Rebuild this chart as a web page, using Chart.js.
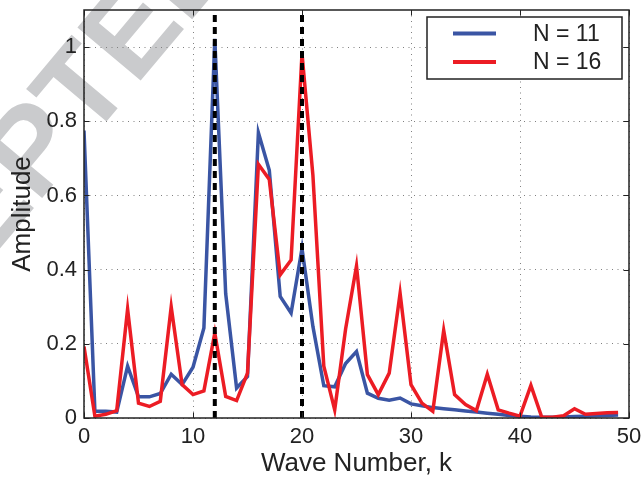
<!DOCTYPE html>
<html>
<head>
<meta charset="utf-8">
<script src="https://cdn.jsdelivr.net/npm/chart.js@4.4.1/dist/chart.umd.min.js"></script>
<style>
  html, body { margin: 0; padding: 0; background: #ffffff; }
  #wrap { width: 644px; height: 479px; position: relative; }
</style>
</head>
<body>
<div id="wrap"><canvas id="spectrum" width="644" height="479"></canvas></div>
<script>
// Wave numbers k and the spectral amplitudes for the two resolutions
const waveNumbers = [0, 1, 2, 3, 4, 5, 6, 7, 8, 9, 10, 11, 12, 13, 14, 15, 16, 17, 18, 19,
  20, 21, 22, 23, 24, 25, 26, 27, 28, 29, 30, 31, 32, 33, 34, 35, 36, 37, 38, 39,
  40, 41, 42, 43, 44, 45, 46, 47, 48, 49];

const ampN11 = [0.775, 0.018, 0.018, 0.016, 0.140, 0.057, 0.057, 0.066, 0.118, 0.090,
  0.137, 0.243, 1.022, 0.335, 0.081, 0.112, 0.769, 0.668, 0.328, 0.283,
  0.457, 0.247, 0.087, 0.084, 0.147, 0.179, 0.067, 0.053, 0.048, 0.054,
  0.038, 0.033, 0.028, 0.025, 0.022, 0.019, 0.016, 0.013, 0.010, 0.007,
  0.005, 0.003, 0.002, 0.002, 0.003, 0.004, 0.005, 0.006, 0.007, 0.008];

const ampN16 = [0.193, 0.005, 0.010, 0.020, 0.294, 0.040, 0.031, 0.045, 0.300, 0.090,
  0.063, 0.073, 0.229, 0.058, 0.047, 0.121, 0.684, 0.643, 0.386, 0.426,
  0.982, 0.655, 0.140, 0.022, 0.240, 0.410, 0.117, 0.063, 0.121, 0.336,
  0.090, 0.040, 0.018, 0.236, 0.063, 0.036, 0.020, 0.118, 0.022, 0.013,
  0.005, 0.088, 0.002, 0.002, 0.006, 0.025, 0.010, 0.012, 0.014, 0.015];

const seriesLabels = ['N = 11', 'N = 16'];
const seriesColors = ['#3a55a4', '#ec1c24'];

// Reference wave numbers marked with dashed verticals
const markerK = [12, 20];

// Axis extents and tick values
const xRange = [0, 50];
const yRange = [0, 1.1];
const xTickValues = [0, 10, 20, 30, 40, 50];
const yTickValues = [0, 0.2, 0.4, 0.6, 0.8, 1];

const INK = '#222222';
const FONT = '"Liberation Sans", Arial, Helvetica, sans-serif';

const toPoints = (ys) => waveNumbers.map((k, i) => ({ x: k, y: ys[i] }));

// Large grey stamp lettering behind the plot
const stampPlugin = {
  id: 'stamp',
  beforeDraw(chart) {
    const ctx = chart.ctx;
    ctx.save();
    ctx.font = 'bold 120px ' + FONT;
    ctx.fillStyle = '#cacbcd';
    ctx.textBaseline = 'alphabetic';
    ctx.translate(88.5, 143);
    ctx.rotate(-50 * Math.PI / 180);
    const lead = ctx.measureText('ACCEP').width;
    ctx.textAlign = 'left';
    ctx.fillText('ACCEPTED MANUSCRIPT', -lead, 0);
    ctx.restore();
  }
};

// Box around the plot area with inward tick marks on all four sides
const framePlugin = {
  id: 'frame',
  afterDraw(chart) {
    const { ctx, chartArea: a, scales } = chart;
    const tick = 5.5;
    ctx.save();
    ctx.strokeStyle = INK;
    ctx.lineWidth = 1;
    ctx.beginPath();
    xTickValues.forEach(v => {
      const px = Math.round(scales.x.getPixelForValue(v)) + 0.5;
      ctx.moveTo(px, a.bottom); ctx.lineTo(px, a.bottom - tick);
      ctx.moveTo(px, a.top); ctx.lineTo(px, a.top + tick);
    });
    yTickValues.forEach(v => {
      const py = Math.round(scales.y.getPixelForValue(v)) + 0.5;
      ctx.moveTo(a.left, py); ctx.lineTo(a.left + tick, py);
      ctx.moveTo(a.right, py); ctx.lineTo(a.right - tick, py);
    });
    ctx.stroke();
    ctx.lineWidth = 1.5;
    ctx.strokeRect(a.left, a.top, a.right - a.left, a.bottom - a.top);
    ctx.restore();
  }
};

// Boxed legend in the upper right corner of the plot
const boxLegendPlugin = {
  id: 'boxLegend',
  afterDraw(chart) {
    const { ctx, chartArea: a } = chart;
    const w = 195, h = 62;
    const left = a.right - 7 - w, top = a.top + 7;
    ctx.save();
    ctx.fillStyle = '#ffffff';
    ctx.fillRect(left, top, w, h);
    ctx.strokeStyle = INK;
    ctx.lineWidth = 1.5;
    ctx.strokeRect(left, top, w, h);
    ctx.font = '23px ' + FONT;
    ctx.textAlign = 'left';
    ctx.textBaseline = 'middle';
    const rows = [top + 16.6, top + 45];
    seriesLabels.forEach((label, i) => {
      ctx.strokeStyle = seriesColors[i];
      ctx.lineWidth = 4;
      ctx.beginPath();
      ctx.moveTo(left + 26, rows[i]);
      ctx.lineTo(left + 69, rows[i]);
      ctx.stroke();
      ctx.fillStyle = INK;
      ctx.fillText(label, left + 106, rows[i] + 1);
    });
    ctx.restore();
  }
};

// Keep the plot area at fixed edges regardless of tick label overhang
const noOverhang = (s) => { s.paddingTop = 0; s.paddingBottom = 0; s.paddingLeft = 0; s.paddingRight = 0; };

const markerSets = markerK.map(k => ({
  label: 'k = ' + k,
  data: [{ x: k, y: yRange[0] }, { x: k, y: yRange[1] }],
  borderColor: '#000000',
  borderWidth: 4,
  borderDash: [7, 5],
  borderCapStyle: 'butt',
  pointRadius: 0,
  order: 0
}));

new Chart(document.getElementById('spectrum'), {
  type: 'line',
  data: {
    datasets: [
      {
        label: seriesLabels[0],
        data: toPoints(ampN11),
        borderColor: seriesColors[0],
        borderWidth: 3.5,
        pointRadius: 0,
        tension: 0,
        order: 2
      },
      {
        label: seriesLabels[1],
        data: toPoints(ampN16),
        borderColor: seriesColors[1],
        borderWidth: 3.5,
        pointRadius: 0,
        tension: 0,
        order: 1
      },
      ...markerSets
    ]
  },
  options: {
    responsive: false,
    devicePixelRatio: 1,
    animation: false,
    layout: { padding: { top: 10, right: 15, left: 0, bottom: 0 } },
    plugins: {
      legend: { display: false },
      tooltip: { enabled: false }
    },
    scales: {
      x: {
        type: 'linear',
        min: xRange[0],
        max: xRange[1],
        afterFit: (s) => { s.height = 61; noOverhang(s); },
        afterBuildTicks: (s) => { s.ticks = xTickValues.map(v => ({ value: v })); },
        grid: { color: '#808080', lineWidth: 1, drawTicks: false },
        border: { display: false, dash: [1, 4.5] },
        ticks: {
          padding: 6,
          color: INK,
          font: { family: FONT, size: 22 },
          maxRotation: 0,
          callback: (v) => String(v)
        },
        title: {
          display: true,
          text: 'Wave Number, k',
          color: INK,
          font: { family: FONT, size: 26 },
          padding: { top: 0, bottom: 0 }
        }
      },
      y: {
        min: yRange[0],
        max: yRange[1],
        afterFit: (s) => { s.width = 84; noOverhang(s); },
        afterBuildTicks: (s) => { s.ticks = yTickValues.map(v => ({ value: v })); },
        grid: { color: '#808080', lineWidth: 1, drawTicks: false },
        border: { display: false, dash: [1, 4.5] },
        ticks: {
          padding: 7,
          color: INK,
          font: { family: FONT, size: 22 },
          callback: (v) => String(v)
        },
        title: {
          display: true,
          text: 'Amplitude',
          color: INK,
          font: { family: FONT, size: 26 },
          padding: { top: 7, bottom: 0 }
        }
      }
    }
  },
  plugins: [stampPlugin, framePlugin, boxLegendPlugin]
});
</script>
</body>
</html>
